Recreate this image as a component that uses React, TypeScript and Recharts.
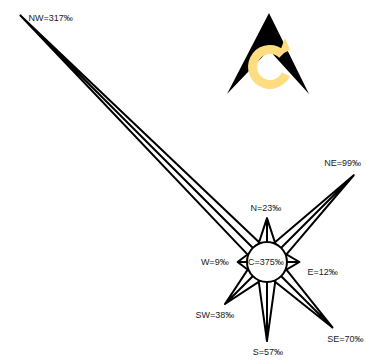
import React from 'react';
import { ScatterChart, Scatter, XAxis, YAxis } from 'recharts';

// ---- data ----
const directions = ['N', 'NE', 'E', 'SE', 'S', 'SW', 'W', 'NW'];
const values = [23, 99, 12, 70, 57, 38, 9, 317];
const centerName = 'C';
const centerValue = 375;
const unit = '‰';

// ---- geometry (data units) ----
const HUB_R = 19.3;
const HALF_ANGLE = 25;
const X_DOMAIN: [number, number] = [-257.5, 95.5];
const Y_DOMAIN: [number, number] = [-95.5, 252.7];

const polar = (r: number, deg: number) => {
  const t = (deg * Math.PI) / 180;
  return { x: r * Math.cos(t), y: r * Math.sin(t) };
};

const tips = directions.map((d, i) => ({
  ...polar(HUB_R + values[i], 90 - i * 45),
  name: d,
  value: values[i],
}));

const outline = directions.flatMap((d, i) => {
  const a = 90 - i * 45;
  return [
    polar(HUB_R, a + HALF_ANGLE),
    polar(HUB_R + values[i], a),
    { x: 0, y: 0 },
    polar(HUB_R + values[i], a),
    polar(HUB_R, a - HALF_ANGLE),
  ];
});

const hub = [{ x: 0, y: 0, name: centerName, value: centerValue }];

// label placement (pixels relative to the tip)
const LABEL_POS: Record<string, { dx: number; dy: number; anchor: 'start' | 'middle' | 'end' }> = {
  N: { dx: -1, dy: -10, anchor: 'middle' },
  NE: { dx: -11, dy: -12, anchor: 'middle' },
  E: { dx: 8, dy: 10, anchor: 'start' },
  SE: { dx: 13, dy: 12, anchor: 'middle' },
  S: { dx: 1, dy: 11, anchor: 'middle' },
  SW: { dx: -10, dy: 11, anchor: 'middle' },
  W: { dx: -9, dy: 0, anchor: 'end' },
  NW: { dx: 8, dy: 3, anchor: 'start' },
};

const FONT = '"Liberation Sans", Arial, Helvetica, sans-serif';

const Empty = () => <g />;

const TipLabel = (props: any) => {
  const { cx, cy, payload } = props;
  const p = LABEL_POS[payload.name];
  return (
    <text
      x={cx + p.dx}
      y={cy + p.dy}
      textAnchor={p.anchor}
      dominantBaseline="central"
      fontSize={9}
      fill="#222"
      fontFamily={FONT}
    >
      {`${payload.name}=${payload.value}${unit}`}
    </text>
  );
};

const HubShape = (props: any) => {
  const { cx, cy, payload } = props;
  return (
    <g>
      <circle cx={cx} cy={cy} r={20} fill="#fff" stroke="#000" strokeWidth={2} />
      <text
        x={cx - 1}
        y={cy}
        textAnchor="middle"
        dominantBaseline="central"
        fontSize={9}
        fill="#222"
        fontFamily={FONT}
      >
        {`${payload.name}=${payload.value}${unit}`}
      </text>
    </g>
  );
};

const Logo = () => (
  <svg width={366} height={361} style={{ position: 'absolute', left: 0, top: 0 }}>
    <polygon points="269,13 309,94 269,50 227,94" fill="#000" />
    <path
      d="M 285.6 51.4 A 22 22 0 1 0 289.9 76.3 L 281.8 72.5 A 13 13 0 1 1 279.2 57.8 Z"
      fill="#fedc80"
    />
    <polygon points="279,54 285,38 290,50 286,52" fill="#fedc80" />
  </svg>
);

export default function App() {
  return (
    <div style={{ position: 'absolute', left: 0, top: 0, width: 366, height: 361, background: '#fff' }}>
      <Logo />
      <div style={{ position: 'absolute', left: 0, top: 0 }}>
        <ScatterChart width={366} height={361} margin={{ top: 0, right: 0, bottom: 0, left: 0 }}>
          <XAxis type="number" dataKey="x" domain={X_DOMAIN} hide allowDataOverflow />
          <YAxis type="number" dataKey="y" domain={Y_DOMAIN} hide allowDataOverflow />
          <Scatter
            data={outline}
            fill="#000"
            line={{ stroke: '#000', strokeWidth: 2, strokeLinejoin: 'round' }}
            shape={Empty}
            isAnimationActive={false}
          />
          <Scatter data={hub} fill="#fff" shape={HubShape} isAnimationActive={false} />
          <Scatter data={tips} fill="#000" shape={TipLabel} isAnimationActive={false} />
        </ScatterChart>
      </div>
    </div>
  );
}
